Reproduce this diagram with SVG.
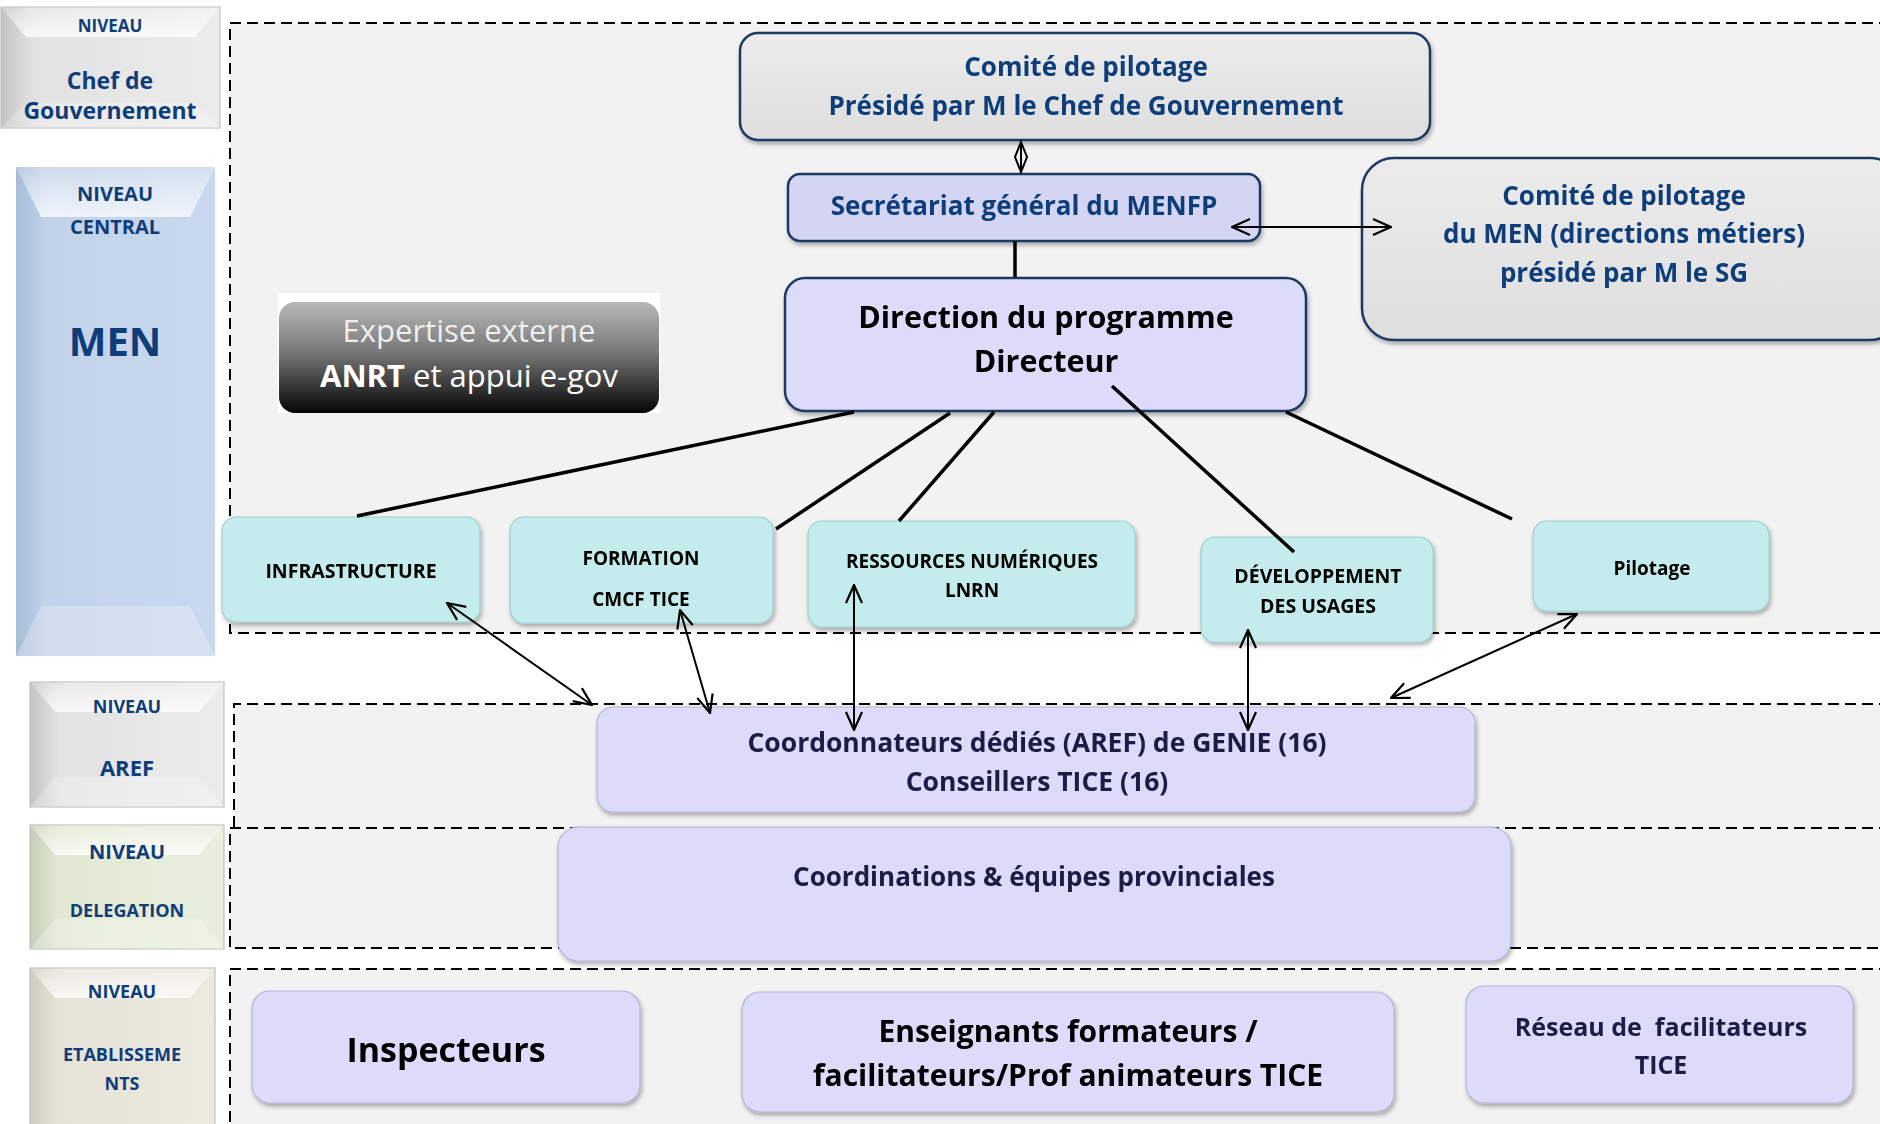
<svg xmlns="http://www.w3.org/2000/svg" width="1880" height="1124" viewBox="0 0 1880 1124">
<defs>
<style>
text{font-family:"Open Sans","Liberation Sans",sans-serif;font-weight:700;text-anchor:middle;white-space:pre}
.reg{font-weight:400}
.lbl{fill:#0e3d7a}
.blue{fill:#0e3d7a}
.navy{fill:#1a1a44}
.blk{fill:#000}
.zone{fill:#f2f2f2}
.dash{fill:none;stroke:#000;stroke-width:2;stroke-dasharray:11 6}
.gray{fill:url(#gGray);stroke:#1f3864;stroke-width:2.5}
.sec{fill:#d3d5f3;stroke:#1f3864;stroke-width:2.5}
.dir{fill:#dcdcfa;stroke:#1f3864;stroke-width:2.5}
.cyan{fill:#c4ecec;stroke:#9ccfcf;stroke-width:1.2}
.lav{fill:#dcdcfa;stroke:#b4b4d6;stroke-width:1.2}
.thick{stroke:#000;stroke-width:3.5;fill:none}
.arr{stroke:#000;stroke-width:2;fill:none;marker-start:url(#ah);marker-end:url(#ah)}
.top{fill:url(#gTop)}
.bot{fill:#fff;opacity:.25}
.lb{stroke:#b8b8b8;stroke-width:1}
</style>
<linearGradient id="gGray" x1="0" y1="0" x2="0" y2="1"><stop offset="0" stop-color="#ececec"/><stop offset="1" stop-color="#dedede"/></linearGradient>
<linearGradient id="gExp" x1="0" y1="0" x2="0" y2="1"><stop offset="0" stop-color="#b8b8b8"/><stop offset=".45" stop-color="#787878"/><stop offset="1" stop-color="#050505"/></linearGradient>
<linearGradient id="gTop" x1="0" y1="0" x2="0" y2="1"><stop offset="0" stop-color="#fff" stop-opacity=".2"/><stop offset="1" stop-color="#fff" stop-opacity=".75"/></linearGradient>
<linearGradient id="lGrey" x1="0" y1="0" x2="1" y2="0"><stop offset="0" stop-color="#c4c4c4"/><stop offset=".15" stop-color="#e2e2e2"/><stop offset="1" stop-color="#ececec"/></linearGradient>
<linearGradient id="lBlue" x1="0" y1="0" x2="1" y2="0"><stop offset="0" stop-color="#a8bcd7"/><stop offset=".15" stop-color="#c1d2e9"/><stop offset="1" stop-color="#c8d9ef"/></linearGradient>
<linearGradient id="lGreen" x1="0" y1="0" x2="1" y2="0"><stop offset="0" stop-color="#c6cfb8"/><stop offset=".15" stop-color="#e1e8d3"/><stop offset="1" stop-color="#e8efdd"/></linearGradient>
<linearGradient id="lBeige" x1="0" y1="0" x2="1" y2="0"><stop offset="0" stop-color="#cfcbbd"/><stop offset=".15" stop-color="#e5e2d7"/><stop offset="1" stop-color="#eceadf"/></linearGradient>
<filter id="sh" x="-5%" y="-5%" width="110%" height="120%"><feDropShadow dx="1.5" dy="3" stdDeviation="2" flood-color="#000" flood-opacity=".3"/></filter>
<marker id="ah" viewBox="0 0 20 20" refX="19" refY="10" markerWidth="20" markerHeight="20" markerUnits="userSpaceOnUse" orient="auto-start-reverse"><path d="M1,2 L19,10 L1,18" fill="none" stroke="#000" stroke-width="2.2"/></marker>
</defs>
<rect width="1880" height="1124" fill="#fff"/>

<g id="zones">
<rect class="zone" x="230" y="23" width="1660" height="610"/>
<rect class="zone" x="234" y="704" width="1656" height="123"/>
<rect class="zone" x="230" y="827" width="1660" height="121"/>
<rect class="zone" x="230" y="969" width="1660" height="170"/>
<path class="dash" d="M1890,23 H230 V633 H1890"/>
<path class="dash" d="M1890,704 H234 V827"/>
<path class="dash" d="M1890,828 H230 V948 H1890"/>
<path class="dash" d="M1890,969 H230 V1130"/>
</g>

<g id="label-chef">
<rect class="lb" x="1" y="7" width="219" height="121" fill="url(#lGrey)"/>
<polygon class="top" points="1,7 220,7 195,37 26,37"/>
<polygon class="bot" points="1,128 26,103 195,103 220,128"/>
<text class="lbl" x="110" y="32" font-size="17">NIVEAU</text>
<text class="lbl" x="110" y="89" font-size="23">Chef de</text>
<text class="lbl" x="110" y="119" font-size="23">Gouvernement</text>
</g>

<g id="label-central">
<rect x="16" y="167" width="199" height="489" fill="url(#lBlue)"/>
<polygon class="top" points="16,167 215,167 190,217 41,217"/>
<polygon class="bot" points="16,656 41,606 190,606 215,656"/>
<text class="lbl" x="115" y="201" font-size="20">NIVEAU</text>
<text class="lbl" x="115" y="234" font-size="20">CENTRAL</text>
<text class="lbl" x="115" y="356" font-size="40">MEN</text>
</g>

<g id="label-aref">
<rect class="lb" x="30" y="682" width="194" height="125" fill="url(#lGrey)"/>
<polygon class="top" points="30,682 224,682 199,712 55,712"/>
<polygon class="bot" points="30,807 55,777 199,777 224,807"/>
<text class="lbl" x="127" y="713" font-size="18">NIVEAU</text>
<text class="lbl" x="127" y="776" font-size="22">AREF</text>
</g>

<g id="label-delegation">
<rect class="lb" x="30" y="825" width="194" height="124" fill="url(#lGreen)"/>
<polygon class="top" points="30,825 224,825 199,855 55,855"/>
<polygon class="bot" points="30,949 55,919 199,919 224,949"/>
<text class="lbl" x="127" y="859" font-size="20">NIVEAU</text>
<text class="lbl" x="127" y="917" font-size="18">DELEGATION</text>
</g>

<g id="label-etab">
<rect class="lb" x="30" y="968" width="185" height="170" fill="url(#lBeige)"/>
<polygon class="top" points="30,968 215,968 190,998 55,998"/>
<text class="lbl" x="122" y="998" font-size="18">NIVEAU</text>
<text class="lbl" x="122" y="1061" font-size="18">ETABLISSEME</text>
<text class="lbl" x="122" y="1090" font-size="18">NTS</text>
</g>

<g id="n-comite" filter="url(#sh)">
<rect class="gray" x="740" y="33" width="690" height="107" rx="18"/>
<text class="blue" x="1086" y="76" font-size="26">Comité de pilotage</text>
<text class="blue" x="1086" y="115" font-size="26">Présidé par M le Chef de Gouvernement</text>
</g>

<g id="n-secretariat" filter="url(#sh)">
<rect class="sec" x="788" y="174" width="472" height="67" rx="12"/>
<text class="blue" x="1024" y="215" font-size="26">Secrétariat général du MENFP</text>
</g>

<g id="n-comite-men" filter="url(#sh)">
<rect class="gray" x="1362" y="158" width="540" height="182" rx="32"/>
<text class="blue" x="1624" y="205" font-size="26">Comité de pilotage</text>
<text class="blue" x="1624" y="243" font-size="26">du MEN (directions métiers)</text>
<text class="blue" x="1624" y="282" font-size="26">présidé par M le SG</text>
</g>

<g id="n-direction" filter="url(#sh)">
<rect class="dir" x="785" y="278" width="521" height="133" rx="20"/>
<text class="blk" x="1046" y="328" font-size="30.5">Direction du programme</text>
<text class="blk" x="1046" y="372" font-size="30.5">Directeur</text>
</g>

<g id="n-expertise">
<rect x="278" y="293" width="382" height="120" fill="#fff"/>
<rect x="279" y="302" width="380" height="111" rx="16" fill="url(#gExp)"/>
<text class="reg" x="469" y="342" font-size="31" fill="#eeeeee">Expertise externe</text>
<text class="reg" x="469" y="387" font-size="31" fill="#fff"><tspan style="font-weight:700">ANRT</tspan> et appui e-gov</text>
</g>

<g id="n-infra" filter="url(#sh)">
<rect class="cyan" x="222" y="517" width="258" height="105" rx="14"/>
<text class="blk" x="351" y="578" font-size="19.5">INFRASTRUCTURE</text>
</g>

<g id="n-formation" filter="url(#sh)">
<rect class="cyan" x="510" y="517" width="263" height="106" rx="14"/>
<text class="blk" x="641" y="565" font-size="19">FORMATION</text>
<text class="blk" x="641" y="606" font-size="19">CMCF TICE</text>
</g>

<g id="n-ressources" filter="url(#sh)">
<rect class="cyan" x="808" y="521" width="327" height="106" rx="14"/>
<text class="blk" x="972" y="568" font-size="19">RESSOURCES NUMÉRIQUES</text>
<text class="blk" x="972" y="597" font-size="19">LNRN</text>
</g>

<g id="n-dev" filter="url(#sh)">
<rect class="cyan" x="1201" y="537" width="232" height="105" rx="14"/>
<text class="blk" x="1318" y="583" font-size="19.5">DÉVELOPPEMENT</text>
<text class="blk" x="1318" y="613" font-size="19.5">DES USAGES</text>
</g>

<g id="n-pilotage" filter="url(#sh)">
<rect class="cyan" x="1533" y="521" width="236" height="90" rx="14"/>
<text class="blk" x="1652" y="575" font-size="19">Pilotage</text>
</g>

<g id="n-coordonnateurs" filter="url(#sh)">
<rect class="lav" x="597" y="707" width="878" height="105" rx="16"/>
<text class="navy" x="1037" y="752" font-size="26.5">Coordonnateurs dédiés (AREF) de GENIE (16)</text>
<text class="navy" x="1037" y="791" font-size="26.5">Conseillers TICE (16)</text>
</g>

<g id="n-coordinations" filter="url(#sh)">
<rect class="lav" x="558" y="827" width="953" height="134" rx="20"/>
<text class="navy" x="1034" y="886" font-size="26">Coordinations &amp; équipes provinciales</text>
</g>

<g id="n-inspecteurs" filter="url(#sh)">
<rect class="lav" x="252" y="991" width="388" height="112" rx="18"/>
<text class="blk" x="446" y="1062" font-size="34">Inspecteurs</text>
</g>

<g id="n-enseignants" filter="url(#sh)">
<rect class="lav" x="742" y="992" width="652" height="120" rx="18"/>
<text class="blk" x="1068" y="1042" font-size="30">Enseignants formateurs /</text>
<text class="blk" x="1068" y="1086" font-size="30">facilitateurs/Prof animateurs TICE</text>
</g>

<g id="n-reseau" filter="url(#sh)">
<rect class="lav" x="1466" y="986" width="387" height="117" rx="18"/>
<text class="navy" x="1661" y="1036" font-size="25">Réseau de  facilitateurs</text>
<text class="navy" x="1661" y="1074" font-size="25">TICE</text>
</g>

<g id="connectors">
<path class="thick" d="M1015,241 V277"/>
<path class="thick" d="M854,412 L357,516"/>
<path class="thick" d="M950,413 L776,529"/>
<path class="thick" d="M994,412 L899,521"/>
<path class="thick" d="M1112,386 L1294,552"/>
<path class="thick" d="M1286,412 L1512,519"/>
<path d="M1021,142 L1027,157 L1021,172 L1015,157 Z M1021,142 V172" fill="none" stroke="#000" stroke-width="2"/>
<path class="arr" d="M1232,227 H1391"/>
<path class="arr" d="M447,603 L592,705"/>
<path class="arr" d="M680,610 L710,713"/>
<path class="arr" d="M854,585 V730"/>
<path class="arr" d="M1248,630 V730"/>
<path class="arr" d="M1577,614 L1391,698"/>
</g>
</svg>
